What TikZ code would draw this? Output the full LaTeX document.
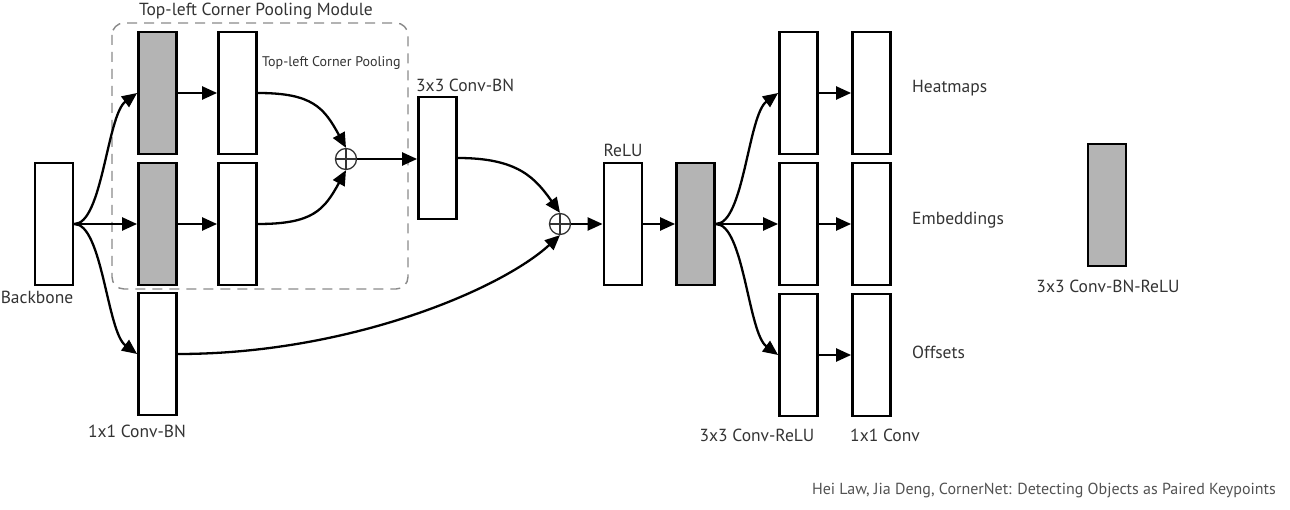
\documentclass[tikz,border=0pt]{standalone}
\usepackage{fontspec}
\setmainfont{PT Sans}
\usetikzlibrary{arrows.meta}
\definecolor{txt}{HTML}{333333}
\definecolor{boxgray}{HTML}{B4B4B4}
\definecolor{dashgray}{HTML}{8A8A8A}
\tikzset{
  blk/.style={draw=black, line width=2.8pt, fill=white, minimum width=38pt, minimum height=122pt, inner sep=0pt, rectangle},
  gblk/.style={blk, fill=boxgray},
  plus/.style={draw=black!80, line width=1.3pt, circle, minimum size=21pt, inner sep=0pt,
    path picture={\draw[black!80, line width=1.3pt] (path picture bounding box.north) -- (path picture bounding box.south) (path picture bounding box.west) -- (path picture bounding box.east);}},
  arr/.style={line width=2.3pt, -{Triangle[length=15pt,width=13pt]}},
  lbl/.style={text=txt, font=\fontsize{17.5}{20}\selectfont, inner sep=0pt},
  slbl/.style={text=txt, font=\fontsize{14}{16}\selectfont, inner sep=0pt},
}
\begin{document}
\begin{tikzpicture}[x=1pt,y=-1pt]
\useasboundingbox (0,0) rectangle (1290,510);
% dashed module
\draw[dashgray, line width=1.4pt, dash pattern=on 10pt off 7pt, rounded corners=12pt] (112,23) rectangle (408,289);
\node[lbl] (tmod) at (256,11) {Top-left Corner Pooling Module};
\node[slbl, anchor=west] (tcp) at (262,63) {Top-left Corner Pooling};

\node[blk] (bb) at (54,224) {};
\node[lbl] (bbl) at (37,297) {Backbone};
\node[gblk] (g1) at (157.5,93) {};
\node[gblk] (g2) at (157.5,224) {};
\node[blk] (w1) at (237.5,93) {};
\node[blk] (w2) at (237.5,224) {};
\node[blk] (cb) at (157.5,354) {};
\node[lbl] (cbl) at (137,431) {1x1 Conv-BN};
\node[plus] (p1) at (346,159) {};
\node[blk] (c3) at (437.5,158) {};
\node[lbl, anchor=west] (c3l) at (416,85) {3x3 Conv-BN};
\node[plus] (p2) at (560,224) {};
\node[blk] (relu) at (623,224) {};
\node[lbl] (relul) at (623,150) {ReLU};
\node[gblk] (g3) at (695.5,224) {};
\node[blk] (a1) at (798.5,93) {};
\node[blk] (a2) at (798.5,224) {};
\node[blk] (a3) at (798.5,355) {};
\node[blk] (b1) at (871.5,93) {};
\node[blk] (b2) at (871.5,224) {};
\node[blk] (b3) at (871.5,355) {};
\node[lbl] (al) at (757,435) {3x3 Conv-ReLU};
\node[lbl] (bl) at (885,435) {1x1 Conv};
\node[lbl, anchor=west] (hm) at (912,88) {Heatmaps};
\node[lbl, anchor=west] (em) at (912,220) {Embeddings};
\node[lbl, anchor=west] (of) at (912,352) {Offsets};
\node[gblk] (leg) at (1107,205) {};
\node[lbl] (legl) at (1108,286) {3x3 Conv-BN-ReLU};
\node[text=txt!85, font=\fontsize{16}{18}\selectfont, inner sep=0pt, anchor=east] (cite) at (1276,490) {Hei Law, Jia Deng, CornerNet: Detecting Objects as Paired Keypoints};

% connectors
\draw[arr] (bb.east) .. controls +(28,0) and +(-30,22) .. (g1.west);
\draw[arr] (bb.east) -- (g2.west);
\draw[arr] (bb.east) .. controls +(28,0) and +(-30,-22) .. (cb.west);
\draw[arr] (g1.east) -- (w1.west);
\draw[arr] (g2.east) -- (w2.west);
\draw[arr] (w1.east) .. controls +(55,0) and +(-22,-40) .. (p1.north);
\draw[arr] (w2.east) .. controls +(55,0) and +(-22,40) .. (p1.south);
\draw[arr] (p1.east) -- (p1.east -| c3.west);
\draw[arr] (c3.east) .. controls +(60,0) and +(-25,-35) .. (p2.north);
\draw[arr] (cb.east) .. controls +(170,0) and +(-60,55) .. (p2.south);
\draw[arr] (p2.east) -- (relu.west);
\draw[arr] (relu.east) -- (g3.west);
\draw[arr] (g3.east) .. controls +(28,0) and +(-30,22) .. (a1.west);
\draw[arr] (g3.east) -- (a2.west);
\draw[arr] (g3.east) .. controls +(28,0) and +(-30,-22) .. (a3.west);
\draw[arr] (a1.east) -- (b1.west);
\draw[arr] (a2.east) -- (b2.west);
\draw[arr] (a3.east) -- (b3.west);
\end{tikzpicture}
\end{document}
